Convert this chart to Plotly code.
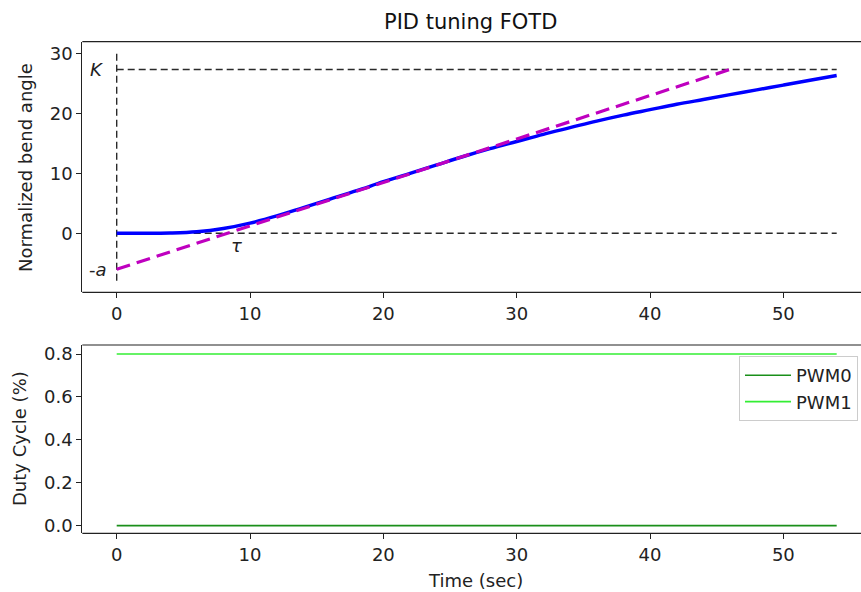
import plotly.graph_objects as go

# ---- data ----
time_s = [0, 2, 4, 6, 8, 10, 12, 14, 16, 18, 20, 22, 24, 26, 28, 30, 32, 34, 36,
          38, 40, 42, 44, 46, 48, 50, 52, 54]
bend = [0.0, 0.0, 0.05, 0.25, 0.8, 1.7, 2.9, 4.3, 5.7, 7.1, 8.6, 10.0, 11.4, 12.8,
        14.1, 15.3, 16.5, 17.6, 18.7, 19.7, 20.6, 21.5, 22.3, 23.1, 23.9, 24.7, 25.5, 26.3]
K = 27.3
a = 6.0
tangent_t = [0, 46]
tangent_y = [-a, K]
vline_y = [-7.9, 30]
pwm_t = [0, 54]
pwm0 = [0.0, 0.0]
pwm1 = [0.8, 0.8]
x_ticks = [0, 10, 20, 30, 40, 50]
y1_ticks = [0, 10, 20, 30]
y2_ticks = [0.0, 0.2, 0.4, 0.6, 0.8]
y2_ticklabels = ["0.0", "0.2", "0.4", "0.6", "0.8"]

W, H = 861, 592
FONT = "DejaVu Sans"
FS = 18
AX = "#222222"

fig = go.Figure()

dash_k = dict(color="#2a2a2a", width=1.4, dash="7px,4px")
# top panel
fig.add_trace(go.Scatter(x=[0, 54], y=[K, K], mode="lines", xaxis="x", yaxis="y",
                         line=dash_k, showlegend=False))
fig.add_trace(go.Scatter(x=[0, 54], y=[0, 0], mode="lines", xaxis="x", yaxis="y",
                         line=dash_k, showlegend=False))
fig.add_trace(go.Scatter(x=[0, 0], y=vline_y, mode="lines", xaxis="x", yaxis="y",
                         line=dash_k, showlegend=False))
fig.add_trace(go.Scatter(x=time_s, y=bend, mode="lines", xaxis="x", yaxis="y",
                         line=dict(color="#0000ff", width=3.4, shape="spline"), showlegend=False))
fig.add_trace(go.Scatter(x=tangent_t, y=tangent_y, mode="lines", xaxis="x", yaxis="y",
                         line=dict(color="#bf00bf", width=3.2, dash="14px,7px"), showlegend=False))

# bottom panel
fig.add_trace(go.Scatter(x=pwm_t, y=pwm0, mode="lines", name="PWM0", xaxis="x2", yaxis="y2",
                         line=dict(color="#1a8f1a", width=1.6)))
fig.add_trace(go.Scatter(x=pwm_t, y=pwm1, mode="lines", name="PWM1", xaxis="x2", yaxis="y2",
                         line=dict(color="#33ee33", width=1.6)))

x_right_px = 858.0
x_range = [(82.3 - 116.7) / 13.333, (x_right_px - 116.7) / 13.333]
axis_common = dict(showgrid=False, zeroline=False,
                   ticks="outside", ticklen=5, tickcolor=AX, tickwidth=1.2,
                   tickfont=dict(family=FONT, size=FS, color="#222222"))

y1_dom = [1 - 292.3 / H, 1 - 41.7 / H]
y2_dom = [1 - 533.3 / H, 1 - 345 / H]
x_dom = [82.3 / W, x_right_px / W]

fig.update_layout(
    width=W, height=H,
    margin=dict(l=0, r=0, t=0, b=0, autoexpand=False),
    paper_bgcolor="white", plot_bgcolor="rgba(0,0,0,0)",
    font=dict(family=FONT, size=FS, color="#222222"),
    xaxis=dict(domain=x_dom, range=x_range, anchor="y", showline=False,
               tickvals=x_ticks, **axis_common),
    yaxis=dict(domain=y1_dom, range=[-9.83, 31.93], anchor="x", showline=True,
               linecolor=AX, linewidth=1.2, tickvals=y1_ticks, **axis_common),
    xaxis2=dict(domain=x_dom, range=x_range, anchor="y2", showline=False,
                tickvals=x_ticks, **axis_common),
    yaxis2=dict(domain=y2_dom, range=[-0.036, 0.842], anchor="x2", showline=True,
                linecolor=AX, linewidth=1.2, tickvals=y2_ticks, ticktext=y2_ticklabels,
                **axis_common),
    legend=dict(x=739 / W, y=1 - 356 / H, xanchor="left", yanchor="top",
                bgcolor="white", bordercolor="#cccccc", borderwidth=1,
                itemwidth=46, font=dict(family=FONT, size=FS, color="#222222"),
                tracegroupgap=0),
    showlegend=True,
)

shapes = []
for dom in (y1_dom, y2_dom):
    for yy in dom:
        shapes.append(dict(type="line", xref="paper", yref="paper", x0=x_dom[0], x1=1,
                           y0=yy, y1=yy, line=dict(color=AX, width=1.2)))
fig.update_layout(shapes=shapes)

ann = [
    dict(text="PID tuning FOTD", x=471 / W, y=1 - 22 / H, xref="paper", yref="paper",
         showarrow=False, font=dict(size=21, family=FONT, color="#111111"),
         xanchor="center", yanchor="middle"),
    dict(text="Normalized bend angle", x=25 / W, y=1 - 168 / H, xref="paper", yref="paper",
         showarrow=False, textangle=-90, xanchor="center", yanchor="middle",
         font=dict(size=FS, family=FONT)),
    dict(text="Duty Cycle (%)", x=19 / W, y=1 - 439 / H, xref="paper", yref="paper",
         showarrow=False, textangle=-90, xanchor="center", yanchor="middle",
         font=dict(size=FS, family=FONT)),
    dict(text="Time (sec)", x=475 / W, y=1 - 580 / H, xref="paper", yref="paper",
         showarrow=False, xanchor="center", yanchor="middle",
         font=dict(size=FS, family=FONT)),
    dict(text="<i>K</i>", x=-1.55, y=K, xref="x", yref="y", showarrow=False,
         xanchor="center", yanchor="middle", font=dict(size=FS, family=FONT)),
    dict(text="-<i>a</i>", x=-1.4, y=-a, xref="x", yref="y", showarrow=False,
         xanchor="center", yanchor="middle", font=dict(size=FS, family=FONT)),
    dict(text="<i>τ</i>", x=9.0, y=-2.0, xref="x", yref="y", showarrow=False,
         xanchor="center", yanchor="middle", font=dict(size=FS, family=FONT)),
]
fig.update_layout(annotations=ann)

fig.write_html("out.html", config={"displayModeBar": False})
